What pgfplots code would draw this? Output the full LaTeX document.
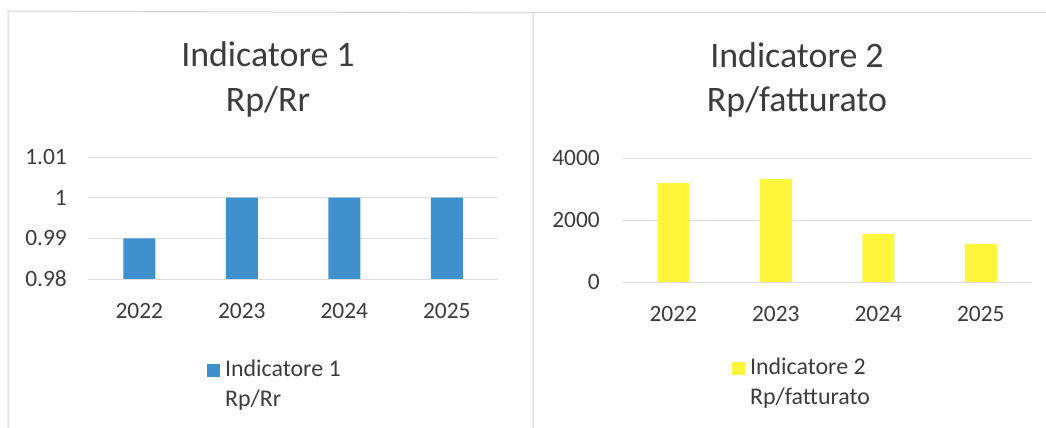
\documentclass[border=0pt]{standalone}
\usepackage{pgfplots}
\pgfplotsset{compat=1.18}
\usepackage{fontspec}
\setmainfont{Carlito}

\definecolor{barblue}{RGB}{62,145,204}
\definecolor{baryellow}{RGB}{255,246,60}
\definecolor{txt}{RGB}{60,60,60}
\definecolor{gridc}{RGB}{222,222,222}

\pgfplotsset{
  panel/.style={
    scale only axis,
    width=410bp,
    anchor=south west,
    axis line style={draw=none},
    major tick length=0pt,
    ymajorgrids,
    grid style={gridc, line width=0.9bp},
    xmin=-0.5, xmax=3.5,
    xtick=data,
    xticklabels={2022,2023,2024,2025},
    ybar, bar width=32bp,
    tick label style={font=\fontsize{23.5}{27}\selectfont, text=txt, inner sep=0pt},
    xticklabel style={anchor=north, yshift=-24bp},
    legend style={draw=none, fill=none, inner sep=0pt,
      font=\fontsize{24}{30}\selectfont, text=txt,
      cells={align=left, anchor=west},
      nodes={inner sep=0pt}},
    legend image code/.code={\fill[##1] (0bp,7bp) rectangle (13bp,20bp); \path (18bp,0bp);},
    legend cell align=left,
  },
}

\begin{document}
\begin{tikzpicture}
\useasboundingbox (0,0) rectangle (1046bp,428bp);

% panel frames
\draw[gray!35, line width=1bp] (8bp,0) -- (8bp,417bp) -- (533bp,415bp) -- (533bp,0);
\draw[gray!35, line width=1bp] (533bp,415bp) -- (1046bp,415bp);

% titles
\node[anchor=base, font=\fontsize{36}{42}\selectfont, text=txt] at (268bp,361bp) {Indicatore 1};
\node[anchor=base, font=\fontsize{36}{42}\selectfont, text=txt] at (268bp,316bp) {Rp/Rr};
\node[anchor=base, font=\fontsize{36}{42}\selectfont, text=txt] at (797bp,360bp) {Indicatore 2};
\node[anchor=base, font=\fontsize{36}{42}\selectfont, text=txt] at (797bp,316bp) {Rp/fatturato};

\begin{axis}[panel,
  at={(88bp,149bp)}, height=122bp,
  ymin=0.98, ymax=1.01,
  ytick={0.98,0.99,1,1.01},
  yticklabels={0.98,0.99,1,1.01},
  yticklabel style={anchor=east, xshift=-21bp},
  legend style={at={(0.29,-0.66)}, anchor=north west},
]
\addplot[fill=barblue, draw=none] coordinates {(0,0.99) (1,1.0) (2,1.0) (3,1.0)};
\addlegendentry{Indicatore 1\\Rp/Rr}
\end{axis}

\begin{axis}[panel,
  at={(622bp,146bp)}, height=124bp,
  ymin=0, ymax=4000,
  ytick={0,2000,4000},
  yticklabels={0,2000,4000},
  yticklabel style={anchor=east, xshift=-22bp},
  legend style={at={(0.268,-0.613)}, anchor=north west},
]
\addplot[fill=baryellow, draw=none] coordinates {(0,3190) (1,3320) (2,1550) (3,1230)};
\addlegendentry{Indicatore 2\\Rp/fatturato}
\end{axis}
\end{tikzpicture}
\end{document}
